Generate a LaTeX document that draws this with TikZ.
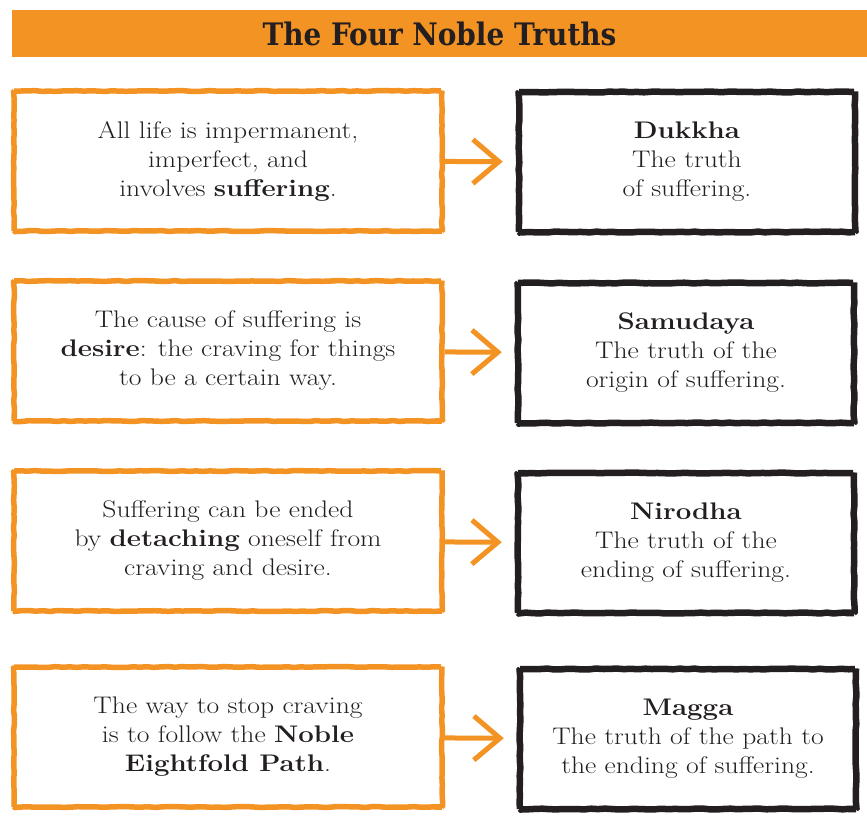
\documentclass[tikz,border=0pt]{standalone}
\usepackage{fontspec}
\setmainfont{Latin Modern Roman}[FakeStretch=1.15]
\newfontfamily\titlefont{DejaVu Serif Condensed}
\usepackage{xcolor}
\definecolor{truthOrange}{HTML}{F39323}
\definecolor{inkBlack}{HTML}{231F20}
\usetikzlibrary{
    arrows.meta,
    decorations.pathmorphing,
    positioning
}
\tikzset{
    % Base style for all boxes - rough hand drawn frame
    box base/.style={
        font=\fontsize{24}{29}\selectfont,
        align=center,
        text=inkBlack,
        minimum height=140pt,
        line width=5.5pt,
        rounded corners=1pt,
        decorate,
        decoration={random steps, segment length=7pt, amplitude=0.5pt},
    },
    % Left boxes - the statement, orange frame
    cause/.style={
        box base,
        draw=truthOrange,
        minimum width=428pt,
    },
    % Right boxes - the named truth, black frame
    truth/.style={
        box base,
        draw=inkBlack,
        line width=6.5pt,
        minimum width=336pt,
    },
    % Orange open arrow between the boxes
    arrow/.style={
        -{Straight Barb[length=26pt, width=44pt]},
        line width=5pt,
        draw=truthOrange,
        shorten >=13pt,
    },
    % Heading bar
    title bar/.style={
        fill=truthOrange,
        text=inkBlack,
        minimum width=855pt,
        minimum height=47pt,
        font=\titlefont\bfseries\fontsize{31}{34}\selectfont,
    },
}

\begin{document}
\begin{tikzpicture}[x=1pt, y=-1pt]
    \useasboundingbox (0,0) rectangle (867,831);
    \fill[white] (0,0) rectangle (867,831);

    \node (title) [title bar] at (439.5,33.5) {The Four Noble Truths};

    \node (cause1) [cause] at (228,161) {All life is impermanent,\\ imperfect, and\\ involves \textbf{suffering}.};
    \node (truth1) [truth] at (687,162) {\textbf{Dukkha}\\ The truth\\ of suffering.};

    \node (cause2) [cause] at (228,351) {The cause of suffering is\\ \textbf{desire}: the craving for things\\ to be a certain way.};
    \node (truth2) [truth] at (686,353) {\textbf{Samudaya}\\ The truth of the\\ origin of suffering.};

    \node (cause3) [cause] at (228,541) {Suffering can be ended\\ by \textbf{detaching} oneself from\\ craving and desire.};
    \node (truth3) [truth] at (686,543) {\textbf{Nirodha}\\ The truth of the\\ ending of suffering.};

    \node (cause4) [cause] at (228,737) {The way to stop craving\\ is to follow the \textbf{Noble}\\ \textbf{Eightfold Path}.};
    \node (truth4) [truth] at (688,739) {\textbf{Magga}\\ The truth of the path to\\ the ending of suffering.};

    \draw [arrow] (cause1) -- (truth1);
    \draw [arrow] (cause2) -- (truth2);
    \draw [arrow] (cause3) -- (truth3);
    \draw [arrow] (cause4) -- (truth4);
\end{tikzpicture}
\end{document}
